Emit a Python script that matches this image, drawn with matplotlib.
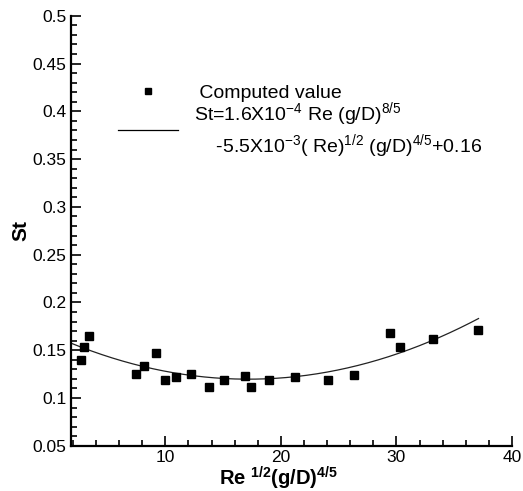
import matplotlib.pyplot as plt
from matplotlib.ticker import MultipleLocator, FuncFormatter
from matplotlib.lines import Line2D
import numpy as np

plt.rcParams['font.family'] = ['Liberation Sans', 'DejaVu Sans']
plt.rcParams['mathtext.fontset'] = 'custom'
plt.rcParams['mathtext.rm'] = 'Liberation Sans'
plt.rcParams['mathtext.it'] = 'Liberation Sans:italic'
plt.rcParams['mathtext.bf'] = 'Liberation Sans:bold'

# computed values
x_vals = [2.67, 2.93, 3.36, 7.5, 8.16, 9.2, 9.97, 10.92, 12.24, 13.76, 15.11,
          16.9, 17.41, 19.0, 21.26, 24.05, 26.35, 29.48, 30.32, 33.19, 37.07]
st_vals = [0.140, 0.153, 0.165, 0.125, 0.134, 0.147, 0.119, 0.122, 0.125, 0.112, 0.119,
           0.123, 0.112, 0.119, 0.122, 0.119, 0.124, 0.168, 0.153, 0.162, 0.171]

# quadratic fit drawn in the chart (St = a*x^2 + b*x + c)
fit_coef = [1.6e-4, -5.5e-3, 0.167]
fit_range = [1.85, 37.1]

xlim = (1.85, 40)
ylim = (0.05, 0.5)

fig = plt.figure(figsize=(5.23, 4.91), dpi=100)
ax = fig.add_axes([0.136, 0.092, 0.843, 0.876])

xf = np.linspace(fit_range[0], fit_range[1], 200)
ax.plot(xf, np.polyval(fit_coef, xf), color='#222222', lw=0.9)
ax.plot(x_vals, st_vals, 's', color='black', ms=5.2, ls='none')

ax.set_xlim(*xlim)
ax.set_ylim(*ylim)
ax.xaxis.set_major_locator(MultipleLocator(10))
ax.xaxis.set_minor_locator(MultipleLocator(2))
ax.yaxis.set_major_locator(MultipleLocator(0.05))
ax.yaxis.set_minor_locator(MultipleLocator(0.01))
ax.yaxis.set_major_formatter(FuncFormatter(lambda v, p: f'{v:g}'))
ax.tick_params(which='both', direction='in', width=1.2, labelsize=12.5, top=False, right=False)
ax.tick_params(which='major', length=7)
ax.tick_params(which='minor', length=4)
ax.tick_params(axis='x', pad=3)
for s in ['top', 'right']:
    ax.spines[s].set_visible(False)
for s in ['left', 'bottom']:
    ax.spines[s].set_linewidth(1.6)

ax.set_ylabel('St', fontsize=15, fontweight='bold', labelpad=1)
ax.set_xlabel(r'Re $^{\mathbf{1/2}}$(g/D)$^{\mathbf{4/5}}$', fontsize=14.5, fontweight='bold')
ax.xaxis.label.set_va('bottom')
ax.xaxis.set_label_coords(0.47, -0.108)

handles = [Line2D([], [], marker='s', color='black', ls='none', ms=4.5),
           Line2D([], [], color='black', lw=0.9)]
labels = [' Computed value',
          'St=1.6X10$^{-4}$ Re (g/D)$^{8/5}$\n    -5.5X10$^{-3}$( Re)$^{1/2}$ (g/D)$^{4/5}$+0.16']
ax.legend(handles, labels, loc='upper left', bbox_to_anchor=(0.066, 0.882), frameon=False,
          fontsize=14, handlelength=3.1, handletextpad=0.8, labelspacing=-0.08)

fig.savefig('out.png', dpi=100)
